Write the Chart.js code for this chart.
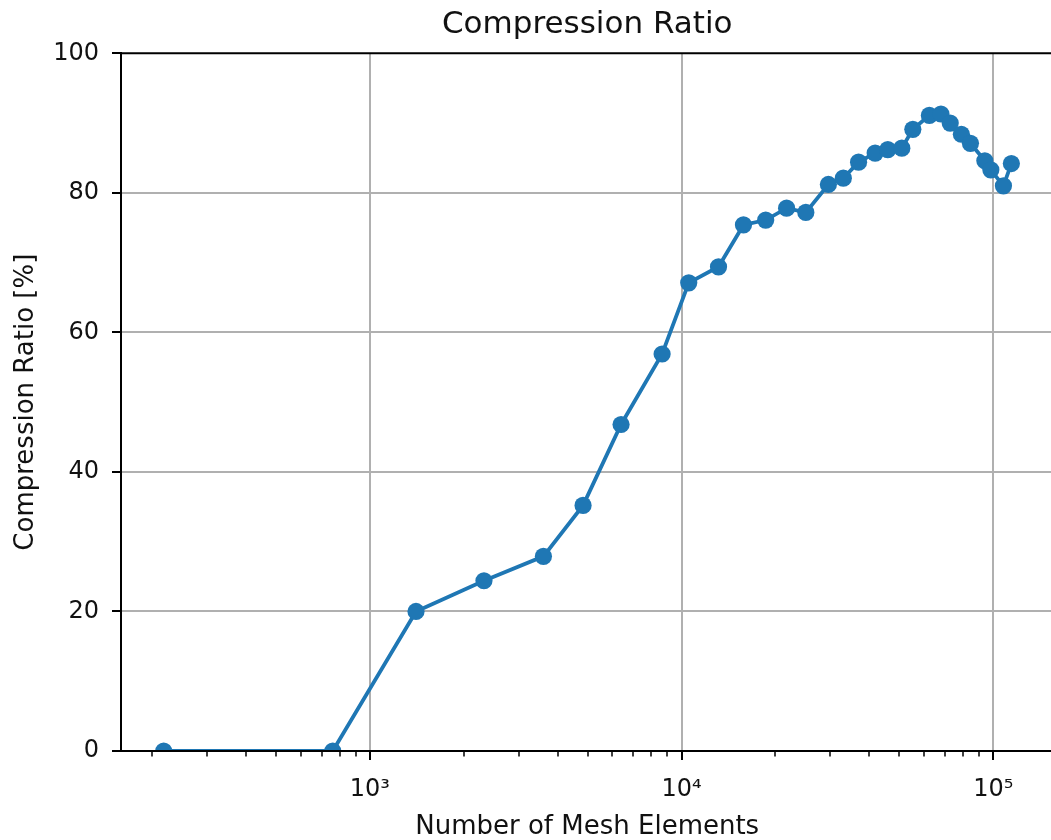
<!DOCTYPE html>
<html>
<head>
<meta charset="utf-8">
<title>Compression Ratio</title>
<script src="https://cdn.jsdelivr.net/npm/chart.js@4/dist/chart.umd.min.js"></script>
<style>
  html, body { margin: 0; padding: 0; background: #fff; overflow: hidden; }
  #wrap { position: relative; width: 1051px; height: 840px; overflow: hidden; }
  #c { position: absolute; left: 0; top: 0; display: block; }
</style>
</head>
<body>
<div id="wrap"><canvas id="c" width="1062" height="840"></canvas></div>
<script>
// Number of mesh elements per run and the resulting compression ratio (%)
const meshElements = [
  218, 760, 1406, 2323, 3604, 4830, 6396, 8663, 10545, 13140,
  15800, 18620, 21730, 25050, 29590, 33040, 36980, 41800, 45890, 50900,
  55220, 62400, 67970, 72780, 79040, 84520, 94000, 98260, 107850, 114350
];
const compressionRatio = [
  0, 0, 20.0, 24.4, 27.9, 35.2, 46.8, 56.9, 67.1, 69.4,
  75.4, 76.1, 77.8, 77.2, 81.2, 82.1, 84.4, 85.7, 86.2, 86.4,
  89.1, 91.1, 91.3, 90.0, 88.4, 87.1, 84.6, 83.3, 81.0, 84.2
];
const yTickValues = [0, 20, 40, 60, 80, 100];
const xDecades = [100, 1000, 10000, 100000];
const xMin = 159;
const xMax = 156000;

const isDecade = v => Math.abs(Math.log10(v) - Math.round(Math.log10(v))) < 1e-9;
const SUP = { '0': '⁰', '1': '¹', '2': '²', '3': '³', '4': '⁴', '5': '⁵', '6': '⁶', '7': '⁷', '8': '⁸', '9': '⁹' };
const decadeLabel = v => '10' + String(Math.round(Math.log10(v))).split('').map(c => SUP[c]).join('');

// 1..9 x each decade, restricted to the visible range
const xTickValues = [];
xDecades.forEach(d => {
  for (let m = 1; m <= 9; m++) {
    const v = m * d;
    if (v >= xMin && v <= xMax) xTickValues.push(v);
  }
});

const FONT = 'DejaVu Sans';
const TEXT = '#111';
const GRID = '#b0b0b0';

// Top spine, minor x ticks and a title centred over the plot area
const axisFrame = {
  id: 'axisFrame',
  afterLayout(chart) {
    const t = chart.titleBlock, a = chart.chartArea;
    if (t) { t.left = a.left; t.right = a.right; t.width = a.right - a.left; }
  },
  afterDraw(chart) {
    const { ctx, chartArea: a, scales } = chart;
    ctx.save();
    ctx.strokeStyle = '#000';
    ctx.lineWidth = 2;
    ctx.beginPath();
    ctx.moveTo(a.left - 1, a.top);
    ctx.lineTo(a.right + 1, a.top);
    ctx.moveTo(a.right, a.top);
    ctx.lineTo(a.right, a.bottom);
    ctx.stroke();
    const xs = scales.x;
    ctx.lineWidth = 1.5;
    ctx.beginPath();
    xs.ticks.forEach(t => {
      if (!isDecade(t.value)) {
        const px = Math.round(xs.getPixelForValue(t.value));
        ctx.moveTo(px, a.bottom);
        ctx.lineTo(px, a.bottom + 5.5);
      }
    });
    ctx.stroke();
    ctx.restore();
  }
};

new Chart(document.getElementById('c'), {
  type: 'line',
  data: {
    datasets: [{
      label: 'Compression Ratio',
      data: meshElements.map((x, i) => ({ x: x, y: compressionRatio[i] })),
      borderColor: '#1f77b4',
      backgroundColor: '#1f77b4',
      borderWidth: 3.8,
      pointRadius: 8.6,
      pointHoverRadius: 8.6,
      pointBorderWidth: 0,
      pointBackgroundColor: '#1f77b4',
      tension: 0,
      clip: 0
    }]
  },
  options: {
    responsive: false,
    animation: false,
    devicePixelRatio: 1,
    layout: { padding: { left: 0, right: 4, top: 0, bottom: 0 } },
    plugins: {
      legend: { display: false },
      tooltip: { enabled: false },
      title: {
        display: true,
        text: 'Compression Ratio',
        color: TEXT,
        font: { family: FONT, size: 31, weight: 'normal', lineHeight: 1.2 },
        padding: { top: 6.2, bottom: 9.9 }
      }
    },
    scales: {
      x: {
        type: 'logarithmic',
        min: xMin,
        max: xMax,
        bounds: 'data',
        afterBuildTicks(s) {
          s.ticks = xTickValues.map(v => ({ value: v, major: false }));
        },
        afterFit(s) { s.height = 89; },
        ticks: {
          autoSkip: false,
          maxRotation: 0,
          minRotation: 0,
          padding: 15,
          color: TEXT,
          font: { family: FONT, size: 24 },
          callback: v => isDecade(v) ? decadeLabel(v) : ''
        },
        grid: {
          color: c => (c.tick && isDecade(c.tick.value)) ? GRID : 'rgba(0,0,0,0)',
          lineWidth: 2,
          tickColor: c => (c.tick && isDecade(c.tick.value)) ? '#000' : 'rgba(0,0,0,0)',
          tickLength: 9,
          tickWidth: 2
        },
        border: { display: true, color: '#000', width: 2, z: 1 },
        title: {
          display: true,
          text: 'Number of Mesh Elements',
          color: TEXT,
          font: { family: FONT, size: 26, lineHeight: 1.0 },
          padding: { top: 0, bottom: 0 }
        }
      },
      y: {
        min: 0,
        max: 100,
        afterBuildTicks(s) {
          s.ticks = yTickValues.map(v => ({ value: v }));
        },
        afterFit(s) { s.width = 121; },
        ticks: {
          padding: 13,
          color: TEXT,
          font: { family: FONT, size: 24 },
          callback: v => String(v)
        },
        grid: {
          color: c => (c.tick && (c.tick.value === 0 || c.tick.value === 100)) ? 'rgba(0,0,0,0)' : GRID,
          lineWidth: 2,
          tickColor: '#000',
          tickLength: 9,
          tickWidth: 2
        },
        border: { display: true, color: '#000', width: 2, z: 1 },
        title: {
          display: true,
          text: 'Compression Ratio [%]',
          color: TEXT,
          font: { family: FONT, size: 26 },
          padding: { top: 10.4, bottom: 0 }
        }
      }
    }
  },
  plugins: [axisFrame]
});
</script>
</body>
</html>
